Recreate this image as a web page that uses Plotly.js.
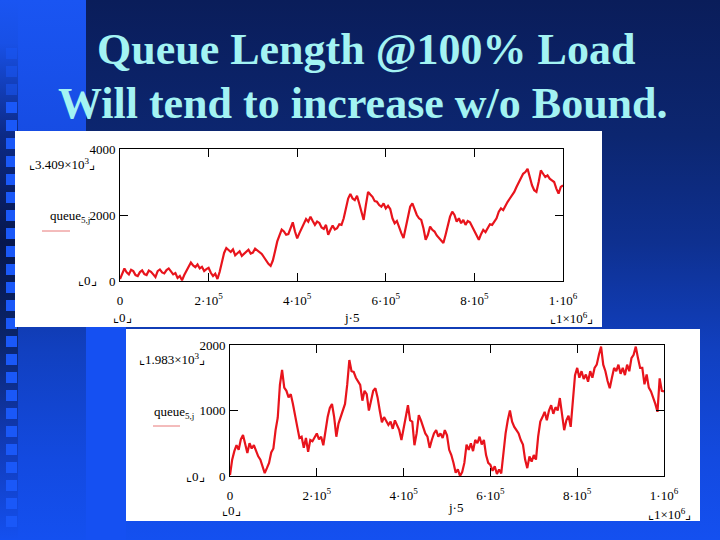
<!DOCTYPE html>
<html><head><meta charset="utf-8">
<script src="https://cdn.plot.ly/plotly-3.0.1.min.js"></script>
<style>
html,body{margin:0;padding:0;width:720px;height:540px;overflow:hidden;}
body{background:linear-gradient(180deg,#0a1d5a 0%,#0c2670 25%,#0e3090 45%,#1140c0 65%,#134ae0 85%,#1450f0 100%);position:relative;}
.deco{position:absolute;}
#chart{position:absolute;left:0;top:0;width:720px;height:540px;}
</style></head><body>
<div class="deco" style="left:0;top:0;width:86px;height:200px;background:linear-gradient(180deg,#1a55f2,#1548dc);"></div>
<div class="deco" style="left:86px;top:320px;width:40px;height:220px;background:#1550f2;"></div>
<div class="deco" style="left:0;top:0;width:18px;height:540px;background:linear-gradient(180deg,#1a55f2 0%,#1850e6 8%,#0c2a86 25%,#07174c 45%,#0a2468 62%,#1038b0 80%,#1450f0 100%);"></div>
<div id="squares"></div>
<div id="chart"></div>
<script>
// ---- data ----
const jStart = 0;
const jStep = 5000;           // sample spacing of j·5
const xTickVals = [0, 200000, 400000, 600000, 800000, 1000000];
const xTickText = ['0', '2·10<sup>5</sup>', '4·10<sup>5</sup>', '6·10<sup>5</sup>', '8·10<sup>5</sup>', '1·10<sup>6</sup>'];
const yTickVals1 = [0, 2000, 4000];
const yTickText1 = ['0', '2000', '4000'];
const yTickVals2 = [0, 1000, 2000];
const yTickText2 = ['0', '1000', '2000'];

const queueTop = [
60,250,380,260,200,340,300,180,150,270,
320,210,180,320,280,200,120,300,350,260,
230,330,380,290,200,240,90,150,20,180,
300,450,560,470,420,500,380,430,300,360,
400,250,150,220,60,280,600,850,1000,930,
880,960,780,840,900,760,820,900,950,830,
860,980,920,880,820,720,600,520,460,620,
900,1200,1380,1560,1500,1400,1420,1600,1780,1500,
1290,1450,1600,1750,1880,1800,1950,1820,1700,1800,
1760,1620,1580,1700,1400,1550,1680,1560,1600,1720,
1700,1900,2200,2500,2640,2500,2450,2580,2350,2100,
1850,2300,2700,2620,2550,2420,2400,2300,2250,2350,
2200,2280,2180,1900,1750,1820,1600,1450,1300,1650,
2000,2250,2350,2150,2000,1900,1850,1600,1250,1400,
1650,1550,1500,1380,1300,1200,1150,1400,1700,1950,
2100,2000,1800,1900,1750,1850,1700,1820,1780,1650,
1500,1350,1250,1420,1550,1480,1600,1720,1700,1820,
1900,2100,2200,2150,2300,2400,2500,2600,2700,2850,
3000,3150,3250,3300,3400,3150,2900,2750,2700,3000,
3350,3250,3150,3200,3100,3050,3000,2800,2650,2850,
2900];

const queueBottom = [
15,250,380,470,400,560,625,480,350,500,
420,470,380,300,250,150,45,120,200,360,
420,700,890,1390,1620,1350,1300,1200,1250,1100,
900,750,580,600,430,580,370,550,530,600,
650,560,600,470,700,900,1040,1100,900,600,
800,900,1000,1100,1390,1770,1600,1590,1500,1450,
1390,1150,1300,1250,1000,1150,1300,1340,1200,1000,
820,900,850,780,830,720,850,760,700,550,
700,900,1080,850,830,470,650,930,850,750,
650,600,430,550,650,700,600,650,580,700,
620,400,320,200,50,100,0,60,200,480,
400,500,380,550,500,600,480,550,320,200,
170,80,150,30,100,40,400,650,850,1000,
830,750,700,650,550,480,250,120,300,220,
320,250,600,830,900,980,850,1000,1080,950,
1050,1000,1190,900,700,850,920,750,1100,1540,
1650,1500,1600,1480,1550,1440,1600,1500,1650,1700,
1850,1975,1700,1600,1450,1340,1500,1650,1600,1700,
1560,1650,1540,1700,1600,1800,1850,1975,1800,1650,
1650,1400,1550,1350,1290,1200,1100,980,1490,1300,
1290];

// ---- decoration: left column squares ----
(function(){
  const c = document.getElementById('squares');
  for (let k = 0; k < 27; k++) {
    const d = document.createElement('div');
    d.className = 'deco';
    d.style.left = '6px'; d.style.top = (48 + 18*k) + 'px';
    d.style.width = '11px'; d.style.height = '11px';
    d.style.background = '#1a58f8';
    d.style.opacity = k < 3 ? 0.5 : 1;
    c.appendChild(d);
  }
})();

const W = 720, H = 540;
const px = v => v / W;
const py = v => 1 - v / H;
const serif = 'Liberation Serif';
const lblFont = {family: serif, size: 13, color: '#000'};

function xAxis(dom) {
  return {domain: dom, range: [0, 1000000], showline: true, linecolor: '#000', linewidth: 1,
    mirror: 'ticks', ticks: 'inside', ticklen: 8, tickcolor: '#000', tickwidth: 1,
    tickmode: 'array', tickvals: xTickVals, ticktext: xTickText, tickfont: lblFont,
    showgrid: false, zeroline: false, ticklabelstandoff: 7, fixedrange: true};
}
function yAxis(dom, maxv, vals, txt) {
  return {domain: dom, range: [0, maxv], showline: true, linecolor: '#000', linewidth: 1,
    mirror: 'ticks', ticks: 'inside', ticklen: 8, tickcolor: '#000', tickwidth: 1,
    tickmode: 'array', tickvals: vals, ticktext: txt, tickfont: lblFont,
    showgrid: false, zeroline: false, ticklabelstandoff: 1, fixedrange: true};
}

const traces = [
  {type: 'scatter', mode: 'lines', x0: jStart, dx: jStep, y: queueTop, xaxis: 'x', yaxis: 'y',
   line: {color: '#e8141c', width: 2.2}, hoverinfo: 'skip'},
  {type: 'scatter', mode: 'lines', x0: jStart, dx: jStep, y: queueBottom, xaxis: 'x2', yaxis: 'y2',
   line: {color: '#e8141c', width: 2.2}, hoverinfo: 'skip'}
];

function ann(text, x, y, xanchor, size, extra) {
  return Object.assign({text: text, xref: 'paper', yref: 'paper', x: px(x), y: py(y),
    xanchor: xanchor || 'center', yanchor: 'middle', showarrow: false,
    font: {family: serif, size: size || 13, color: '#000'}}, extra || {});
}

const titleFont = {family: serif, size: 44, color: '#a3f3f3'};
const annotations = [
  Object.assign(ann('<b>Queue Length @100% Load</b>', 366, 50, 'center', 44), {font: titleFont}),
  Object.assign(ann('<b>Will tend to increase w/o Bound.</b>', 363, 103, 'center', 44), {font: titleFont}),
  // top panel
  ann('⌞3.409×10<sup>3</sup>⌟', 62, 164, 'center', 13),
  ann('queue<sub>5,j</sub>', 92, 216, 'right', 13),
  ann('⌞0⌟', 87, 280, 'center', 13),
  ann('⌞0⌟', 122, 317, 'center', 13),
  ann('j·5', 351, 317, 'center', 13),
  ann('⌞1×10<sup>6</sup>⌟', 571, 318, 'center', 13),
  // bottom panel
  ann('⌞1.983×10<sup>3</sup>⌟', 172, 359, 'center', 13),
  ann('queue<sub>5,j</sub>', 196, 412, 'right', 13),
  ann('⌞0⌟', 196, 476, 'center', 13),
  ann('⌞0⌟', 231, 510, 'center', 13),
  ann('j·5', 455, 507, 'center', 13),
  ann('⌞1×10<sup>6</sup>⌟', 669, 514, 'center', 13)
];

const shapes = [
  {type: 'rect', xref: 'paper', yref: 'paper', x0: px(15), x1: px(602), y0: py(327), y1: py(131),
   fillcolor: '#ffffff', line: {width: 0}, layer: 'below'},
  {type: 'rect', xref: 'paper', yref: 'paper', x0: px(126), x1: px(700), y0: py(521), y1: py(329),
   fillcolor: '#ffffff', line: {width: 0}, layer: 'below'},
  {type: 'line', xref: 'paper', yref: 'paper', x0: px(42), x1: px(70), y0: py(231), y1: py(231),
   line: {color: '#e87878', width: 1}},
  {type: 'line', xref: 'paper', yref: 'paper', x0: px(153), x1: px(180), y0: py(426), y1: py(426),
   line: {color: '#e87878', width: 1}}
];

const layout = {
  width: W, height: H, margin: {l: 0, r: 0, t: 0, b: 0},
  paper_bgcolor: 'rgba(0,0,0,0)', plot_bgcolor: 'rgba(0,0,0,0)',
  showlegend: false,
  xaxis: xAxis([px(120), px(563)]),
  yaxis: yAxis([py(281), py(149)], 4000, yTickVals1, yTickText1),
  xaxis2: Object.assign(xAxis([px(230), px(664)]), {anchor: 'y2'}),
  yaxis2: Object.assign(yAxis([py(476), py(345)], 2000, yTickVals2, yTickText2), {anchor: 'x2'}),
  annotations: annotations,
  shapes: shapes
};
layout.xaxis.anchor = 'y';
layout.yaxis.anchor = 'x';

Plotly.newPlot('chart', traces, layout, {displayModeBar: false, staticPlot: true});
</script>
</body></html>
